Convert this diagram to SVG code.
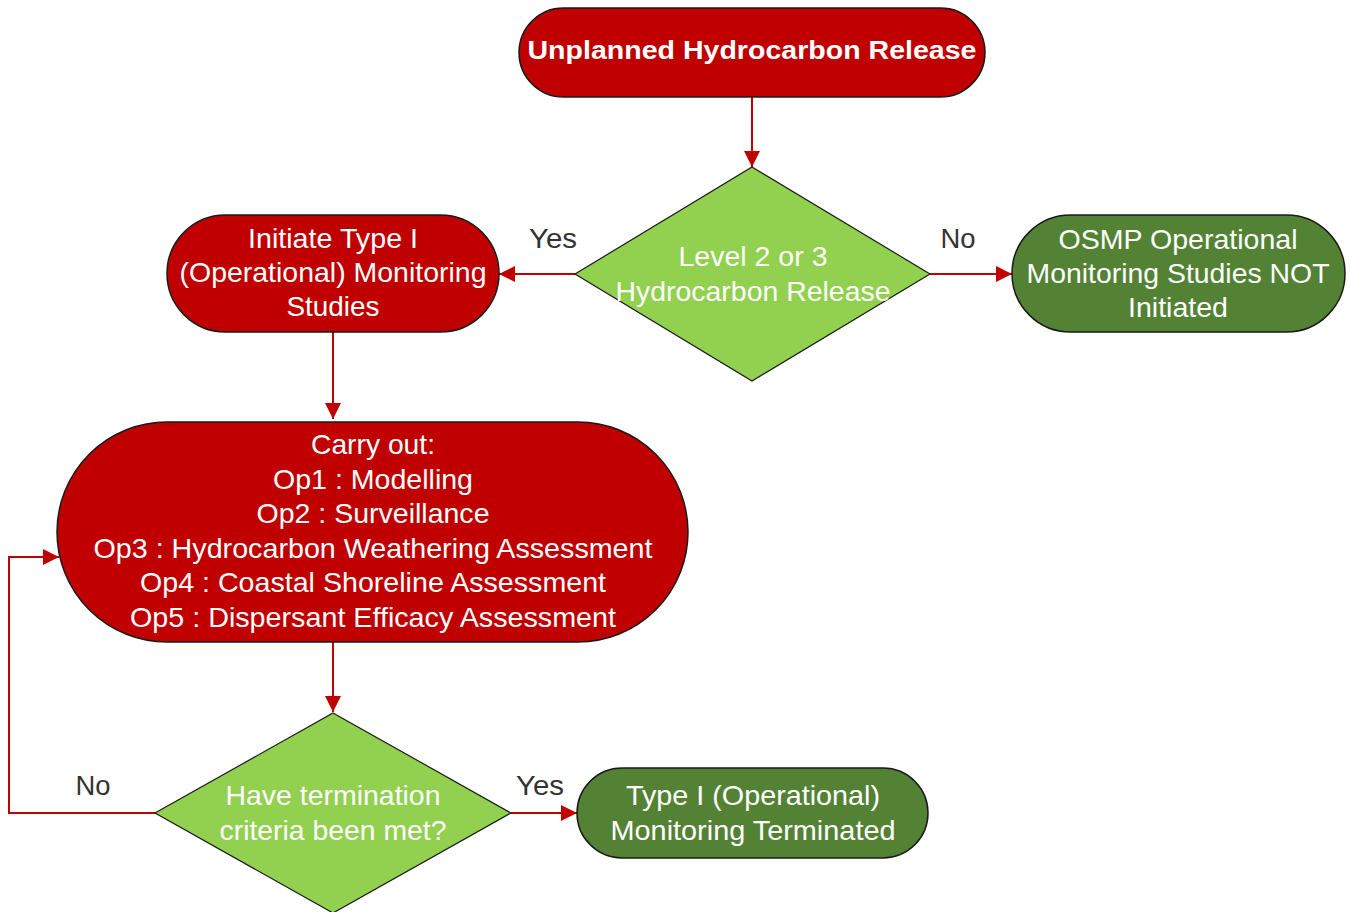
<svg xmlns="http://www.w3.org/2000/svg" width="1350" height="912" viewBox="0 0 1350 912">
<style>
.red{fill:#C00000;stroke:#1a1a1a;stroke-width:1.5}
.lg{fill:#92D050;stroke:#1a1a1a;stroke-width:1.2}
.dg{fill:#548235;stroke:#1a1a1a;stroke-width:1.5}
.t{font-family:"Liberation Sans",Arial,sans-serif;font-size:28px;fill:#ffffff;text-anchor:middle}
.tb{font-family:"Liberation Sans",Arial,sans-serif;font-size:26px;font-weight:bold;fill:#ffffff;text-anchor:middle}
.lbl{font-family:"Liberation Sans",Arial,sans-serif;font-size:28px;fill:#333333;text-anchor:middle}
.c{fill:none;stroke:#C00000;stroke-width:2}
</style>
<defs>
<marker id="ah" viewBox="0 0 16 16" refX="16" refY="8" markerWidth="16" markerHeight="16" markerUnits="userSpaceOnUse" orient="auto">
<path d="M0,0 L16,8 L0,16 Z" fill="#C00000"/>
</marker>
</defs>
<g id="connectors">
<path class="c" d="M752,97 L752,167" marker-end="url(#ah)"/>
<path class="c" d="M575,274 L499,274" marker-end="url(#ah)"/>
<path class="c" d="M930,274 L1012,274" marker-end="url(#ah)"/>
<path class="c" d="M333,332 L333,419" marker-end="url(#ah)"/>
<path class="c" d="M333,642 L333,712" marker-end="url(#ah)"/>
<path class="c" d="M155,813 L9,813 L9,557 L59,557" marker-end="url(#ah)"/>
<path class="c" d="M511,813 L577,813" marker-end="url(#ah)"/>
<text class="lbl" x="553" y="248" textLength="48" lengthAdjust="spacingAndGlyphs">Yes</text>
<text class="lbl" x="958" y="248" textLength="35" lengthAdjust="spacingAndGlyphs">No</text>
<text class="lbl" x="93" y="795" textLength="35" lengthAdjust="spacingAndGlyphs">No</text>
<text class="lbl" x="540" y="795" textLength="48" lengthAdjust="spacingAndGlyphs">Yes</text>
</g>
<g id="start">
<rect class="red" x="519" y="8" width="466" height="89" rx="44.5"/>
<text class="tb" x="752" y="59" textLength="449" lengthAdjust="spacingAndGlyphs">Unplanned Hydrocarbon Release</text>
</g>
<g id="decision1">
<polygon class="lg" points="752,167 930,274 752,381 575,274"/>
<text class="t" x="753" y="266" textLength="149" lengthAdjust="spacingAndGlyphs">Level 2 or 3</text>
<text class="t" x="753" y="301" textLength="275" lengthAdjust="spacingAndGlyphs">Hydrocarbon Release</text>
</g>
<g id="initiate">
<rect class="red" x="167" y="215" width="332" height="117" rx="58.5"/>
<text class="t" x="333" y="248" textLength="170" lengthAdjust="spacingAndGlyphs">Initiate Type I</text>
<text class="t" x="333" y="282" textLength="307" lengthAdjust="spacingAndGlyphs">(Operational) Monitoring</text>
<text class="t" x="333" y="316" textLength="93" lengthAdjust="spacingAndGlyphs">Studies</text>
</g>
<g id="notInitiated">
<rect class="dg" x="1012" y="215" width="333" height="117" rx="58.5"/>
<text class="t" x="1178" y="249" textLength="239" lengthAdjust="spacingAndGlyphs">OSMP Operational</text>
<text class="t" x="1178" y="283" textLength="303" lengthAdjust="spacingAndGlyphs">Monitoring Studies NOT</text>
<text class="t" x="1178" y="317" textLength="100" lengthAdjust="spacingAndGlyphs">Initiated</text>
</g>
<g id="carryOut">
<rect class="red" x="57" y="422" width="631" height="220" rx="110"/>
<text class="t" x="373" y="454" textLength="124" lengthAdjust="spacingAndGlyphs">Carry out:</text>
<text class="t" x="373" y="489" textLength="200" lengthAdjust="spacingAndGlyphs">Op1 : Modelling</text>
<text class="t" x="373" y="523" textLength="233" lengthAdjust="spacingAndGlyphs">Op2 : Surveillance</text>
<text class="t" x="373" y="558" textLength="559" lengthAdjust="spacingAndGlyphs">Op3 : Hydrocarbon Weathering Assessment</text>
<text class="t" x="373" y="592" textLength="466" lengthAdjust="spacingAndGlyphs">Op4 : Coastal Shoreline Assessment</text>
<text class="t" x="373" y="627" textLength="486" lengthAdjust="spacingAndGlyphs">Op5 : Dispersant Efficacy Assessment</text>
</g>
<g id="decision2">
<polygon class="lg" points="333,713 511,813 333,913 155,813"/>
<text class="t" x="333" y="805" textLength="215" lengthAdjust="spacingAndGlyphs">Have termination</text>
<text class="t" x="333" y="840" textLength="227" lengthAdjust="spacingAndGlyphs">criteria been met?</text>
</g>
<g id="terminated">
<rect class="dg" x="577" y="768" width="351" height="90" rx="45"/>
<text class="t" x="753" y="805" textLength="254" lengthAdjust="spacingAndGlyphs">Type I (Operational)</text>
<text class="t" x="753" y="840" textLength="285" lengthAdjust="spacingAndGlyphs">Monitoring Terminated</text>
</g>
</svg>
